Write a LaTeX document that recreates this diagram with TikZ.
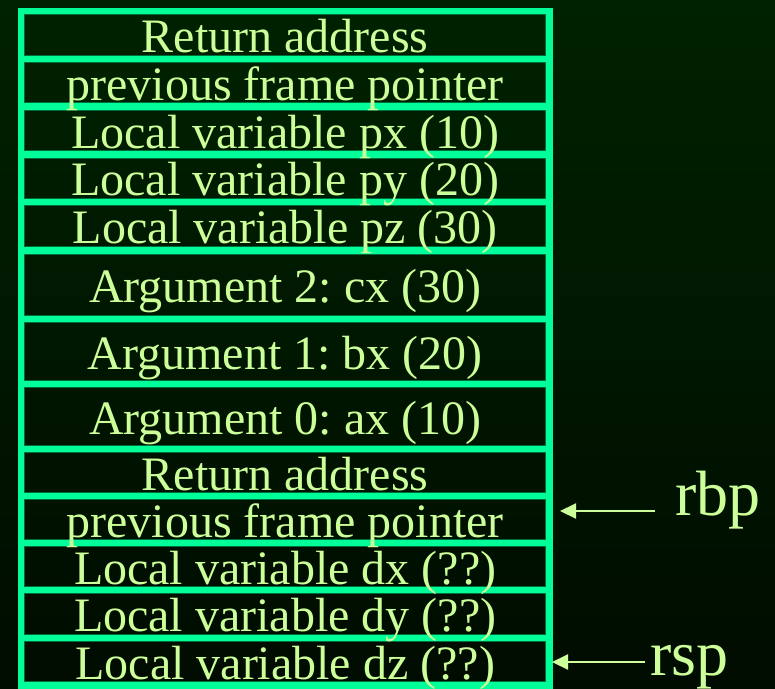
\documentclass[tikz,border=0pt]{standalone}
\usepackage{fontspec}
\setmainfont{Liberation Serif}
\usetikzlibrary{arrows.meta}
\frenchspacing

\definecolor{bgtop}{RGB}{0,34,0}
\definecolor{bgbot}{RGB}{0,12,0}
\definecolor{framegreen}{RGB}{0,255,153}
\definecolor{frameedge}{RGB}{0,110,60}
\definecolor{ink}{RGB}{204,255,153}

\tikzset{
  cell/.style={rectangle, draw=framegreen, line width=6.8pt,
    minimum width=528.5pt, inner sep=0pt, outer sep=0pt},
  celltext/.style={text=ink, anchor=base, inner sep=0pt,
    font=\fontsize{48}{56}\selectfont},
  reglabel/.style={text=ink, anchor=base west, inner sep=0pt,
    font=\fontsize{64}{72}\selectfont},
  ptr/.style={draw=ink, line width=2.2pt, -{Triangle[length=16pt,width=15pt]}}
}

\begin{document}
\begin{tikzpicture}[x=1pt,y=-1pt]
  % page and background
  \useasboundingbox (0,0) rectangle (775,688);
  \shade[top color=bgtop, bottom color=bgbot] (0,0) rectangle (775,688);

  % stack cells: index / top / bottom
  \foreach \i/\t/\b in {1/11/59, 2/59/106.5, 3/106.5/154.5, 4/154.5/202,
      5/202/250.5, 6/250.5/319, 7/319/384, 8/384/449, 9/449/496,
      10/496/543, 11/543/590, 12/590/638, 13/638/685.5} {
    \node[cell, minimum height={(\b-\t)*1pt}] (c\i) at (285.25,{(\t+\b)/2}) {};
    \draw[frameedge, line width=0.9pt]
      ([xshift=3.9pt,yshift=-3.9pt]c\i.north west) rectangle
      ([xshift=-3.9pt,yshift=3.9pt]c\i.south east);
  }

  % cell contents
  \foreach \i/\s in {1/Return address, 2/previous frame pointer,
      3/Local variable px (10), 4/Local variable py (20),
      5/Local variable pz (30), 6/Argument 2: cx (30),
      7/Argument 1: bx (20), 8/Argument 0: ax (10),
      9/Return address, 10/previous frame pointer,
      11/Local variable dx (??), 12/Local variable dy (??),
      13/Local variable dz (??)} {
    \node[celltext] (t\i) at ([yshift=-17.5pt]c\i.center) {\s};
  }

  % register pointers
  \node[reglabel] (rbp) at (675,515) {rbp};
  \node[reglabel] (rsp) at (650,675) {rsp};
  \coordinate (rbptail) at (655,511);
  \coordinate (rsptail) at (645,662);
  \draw[ptr, shorten >=10.5pt] (rbptail) -- (rbptail -| c10.east);
  \draw[ptr, shorten >=2.5pt] (rsptail) -- (rsptail -| c13.east);
\end{tikzpicture}
\end{document}
